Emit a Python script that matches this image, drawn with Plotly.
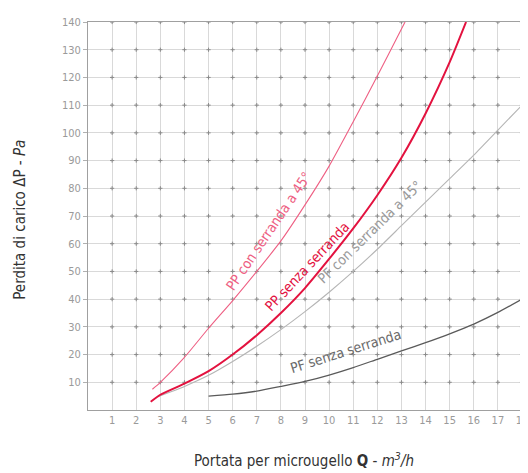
import numpy as np
import plotly.graph_objects as go

# ---- data ----
x_ticks = list(range(1, 19))
y_ticks = list(range(10, 141, 10))

pp_con_x = [2.67, 3, 4, 5, 6, 7, 8, 9, 10, 11, 12, 13, 13.15]
pp_con_y = [7.5, 10, 19, 29.5, 39.5, 50, 61, 74, 88, 104, 120.5, 137.5, 140]

pp_senza_x = [2.6, 3, 4, 5, 6, 7, 8, 9, 10, 11, 12, 13, 14, 15, 15.68]
pp_senza_y = [3, 5.5, 9.5, 14, 20, 27, 35, 44, 54.5, 65.5, 77.5, 91, 107, 125.5, 140]

pf_con_x = [2.9, 4, 5, 6, 7, 8, 9, 10, 11, 12, 13, 14, 15, 16, 17, 18]
pf_con_y = [4.8, 8.5, 12.5, 17.5, 23, 29, 35.5, 42.5, 50, 58, 66.5, 75, 83.5, 92, 101, 110]

pf_senza_x = [5, 6, 7, 8, 9, 10, 11, 12, 13, 14, 15, 16, 17, 18]
pf_senza_y = [5, 5.7, 6.8, 8.5, 10.3, 12.6, 15.3, 18.3, 21.3, 24.3, 27.5, 31, 35.2, 40]

labels = ["PP con serranda a 45°", "PP senza serranda", "PF con serranda a 45°", "PF senza serranda"]
label_x = [7.5, 9.1, 11.68, 10.7]
label_y = [64.5, 52.0, 64.3, 21.2]
label_angle = [-55.7, -47, -44.4, -17.6]

c_pink = "#ee5f83"
c_red = "#e3123f"
c_lgray = "#b5b5b5"
c_dgray = "#5a5a5a"

FONT = "DejaVu Sans Condensed, Liberation Sans Narrow, Liberation Sans, sans-serif"

fig = go.Figure()

# grid intersection dots
gx, gy = np.meshgrid(x_ticks, y_ticks)
fig.add_trace(go.Scatter(x=gx.ravel(), y=gy.ravel(), mode="markers",
                         marker=dict(symbol="cross-thin", size=3, color="#8a8a8a",
                                     line=dict(width=1, color="#8a8a8a")),
                         hoverinfo="skip", showlegend=False))

series = [
    (pf_senza_x, pf_senza_y, c_dgray, 1.3),
    (pf_con_x, pf_con_y, c_lgray, 1.1),
    (pp_con_x, pp_con_y, c_pink, 1.1),
    (pp_senza_x, pp_senza_y, c_red, 2.0),
]
for xs, ys, col, w in series:
    fig.add_trace(go.Scatter(x=xs, y=ys, mode="lines",
                             line=dict(color=col, width=w, shape="spline", smoothing=0.6),
                             showlegend=False, hoverinfo="skip"))

label_colors = [c_pink, c_red, "#9a9a9a", "#6a6a6a"]
for t, lx, ly, a, col in zip(labels, label_x, label_y, label_angle, label_colors):
    fig.add_annotation(x=lx, y=ly, text=t, textangle=a, showarrow=False,
                       xanchor="center", yanchor="middle",
                       font=dict(family=FONT, size=14, color=col))

# axis titles
fig.add_annotation(xref="paper", yref="paper", x=-0.157, y=0.49,
                   xanchor="center", yanchor="middle",
                   text="Perdita di carico ΔP - <i>Pa</i>", textangle=-90, showarrow=False,
                   font=dict(family=FONT, size=15, color="#333333"))
fig.add_annotation(xref="paper", yref="paper", x=0.497, y=-0.128,
                   xanchor="center", yanchor="middle",
                   text="Portata per microugello <b>Q</b> - <i>m<sup>3</sup>/h</i>", showarrow=False,
                   font=dict(family=FONT, size=15, color="#333333"))

axis_common = dict(showgrid=True, gridcolor="#d9d9d9", gridwidth=1,
                   showline=True, linecolor="#a0a0a0", linewidth=1, mirror=True,
                   zeroline=False, tickfont=dict(family=FONT, size=11, color="#9a9a9a"))

fig.update_xaxes(range=[0, 18], tickvals=x_ticks, ticktext=[str(v) for v in x_ticks],
                 ticks="", **axis_common)
fig.update_yaxes(range=[0, 140], tickvals=y_ticks, ticktext=[str(v) for v in y_ticks],
                 ticks="outside", ticklen=4, tickcolor="#b0b0b0", **axis_common)

fig.update_layout(width=528, height=473, margin=dict(l=80, r=8, t=11, b=71),
                  paper_bgcolor="white", plot_bgcolor="white")

fig.write_html("out.html")
